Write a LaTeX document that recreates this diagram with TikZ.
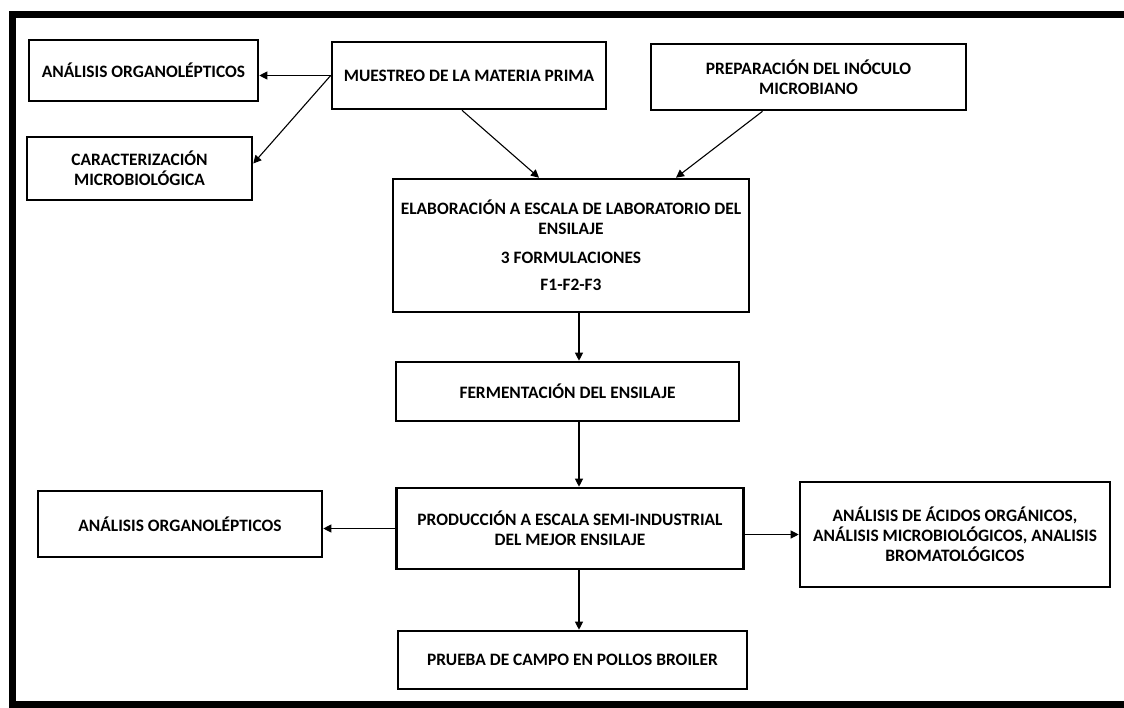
\documentclass[tikz,border=0pt]{standalone}
\usepackage{fontspec}
\setmainfont{Carlito}
\usetikzlibrary{arrows.meta}
\begin{document}
\begin{tikzpicture}[x=1pt,y=-1pt,
    caja/.style 2 args={draw,line width=2.6pt,minimum width=#1,minimum height=#2,
      inner sep=0pt,align=center,font=\bfseries\fontsize{17.4}{20}\selectfont},
    flecha/.style={line width=1.1pt,-{Triangle[length=8pt,width=8pt]}}]
  \useasboundingbox (0,0) rectangle (1124,707);
  \draw[line width=7pt] (1124,14) -- (12.5,14) -- (12.5,704) -- (1124,704);
  % fila de arriba
  \node[caja={229pt}{61pt}] (organo) at (143.5,70.5) {ANÁLISIS ORGANOLÉPTICOS};
  \node[caja={225pt}{63pt}] (caract) at (139.5,168.5) {CARACTERIZACIÓN\\MICROBIOLÓGICA};
  \node[caja={274pt}{67pt}] (muestreo) at (469,75.5) {MUESTREO DE LA MATERIA PRIMA};
  \node[caja={315pt}{66pt}] (inoculo) at (808.5,77) {PREPARACIÓN DEL INÓCULO\\MICROBIANO};
  % columna central
  \node[caja={356pt}{133pt}] (elab) at (571,245.5)
    {ELABORACIÓN A ESCALA DE LABORATORIO DEL\\ENSILAJE\\[9pt]3 FORMULACIONES\\[7pt]F1-F2-F3};
  \node[caja={343pt}{59pt}] (ferm) at (567.5,391.5) {FERMENTACIÓN DEL ENSILAJE};
  \node[caja={347pt}{81pt}] (prod) at (570,528.5) {PRODUCCIÓN A ESCALA SEMI-INDUSTRIAL\\DEL MEJOR ENSILAJE};
  \node[caja={349pt}{58pt}] (prueba) at (572.5,660) {PRUEBA DE CAMPO EN POLLOS BROILER};
  % analisis del ensilaje
  \node[caja={284pt}{66pt}] (organoB) at (180,524) {ANÁLISIS ORGANOLÉPTICOS};
  \node[caja={310pt}{105pt}] (acidos) at (955,534.5)
    {ANÁLISIS DE ÁCIDOS ORGÁNICOS,\\ANÁLISIS MICROBIOLÓGICOS, ANALISIS\\BROMATOLÓGICOS};
  \coordinate (eje) at (579,0);
  \draw[flecha] (muestreo.west) -- (muestreo.west -| organo.east);
  \draw[flecha] (muestreo.west) -- ([yshift=5pt]caract.east);
  \draw[flecha] ([xshift=-7pt]muestreo.south) -- ([xshift=-32pt]elab.north);
  \draw[flecha] ([xshift=-46pt]inoculo.south) -- ([xshift=105pt]elab.north);
  \draw[flecha] (elab.south -| eje) -- (ferm.north -| eje);
  \draw[flecha] (ferm.south -| eje) -- (prod.north -| eje);
  \draw[flecha] (prod.south -| eje) -- (prueba.north -| eje);
  \draw[flecha] (prod.west) -- (prod.west -| organoB.east);
  \draw[flecha] (acidos.west -| prod.east) -- (acidos.west);
\end{tikzpicture}
\end{document}
